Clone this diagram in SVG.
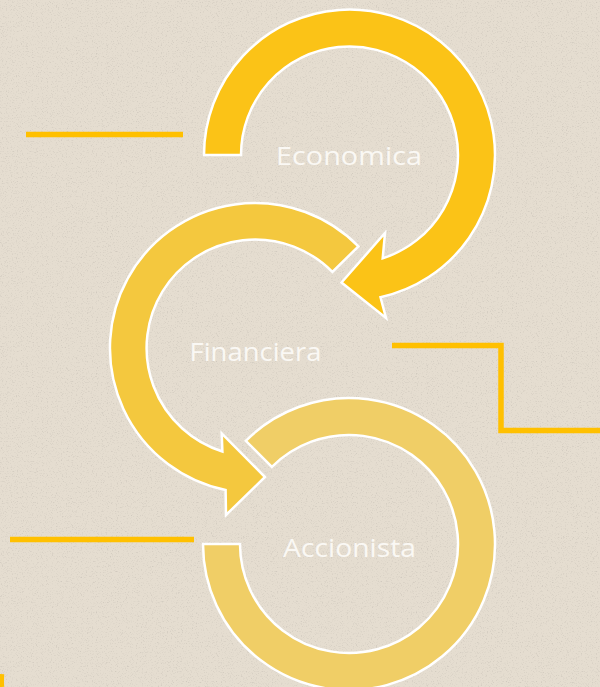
<svg xmlns="http://www.w3.org/2000/svg" width="600" height="687" viewBox="0 0 600 687">
<defs>
<filter id="grain" x="0" y="0" width="100%" height="100%">
<feTurbulence type="fractalNoise" baseFrequency="0.8" numOctaves="2" seed="7" result="n"/>
<feColorMatrix in="n" type="matrix" values="0 0 0 0 0.42  0 0 0 0 0.39  0 0 0 0 0.35  3.2 0 0 0 -1.75"/>
</filter>
<style>
.arrow{stroke:#ffffff;stroke-width:2.5;stroke-linejoin:miter}
.a1{fill:#FBC317}
.a2{fill:#F4C83E}
.a3{fill:#F0CE66}
.lbl{font-family:"Open Sans","Liberation Sans",sans-serif;font-weight:400;font-size:25px;fill:#FAF8F4;text-anchor:middle}
.line{fill:none;stroke:#FFC000;stroke-width:5.5}
</style>
</defs>
<rect width="600" height="687" fill="#E5DDD0"/>
<rect width="600" height="687" fill="#000" filter="url(#grain)" opacity="0.35"/>
<g id="connectors">
<line class="line" x1="26" y1="134.5" x2="183" y2="134.5"/>
<polyline class="line" points="392,345.5 501,345.5 501,430.5 600,430.5"/>
<line class="line" x1="10" y1="539.5" x2="194" y2="539.5"/>
<path class="line" d="M1.5 674 Q1 681 1.5 687" stroke-width="3"/>
</g>
<g id="node-economica">
<path class="arrow a1" d="M 204 155 A 145.5 145.5 0 1 1 380.5 297.2 L 386 318 L 341.5 282.5 L 385 233 L 382.7 258.3 A 108.5 108.5 0 1 0 241 155 Z"/>
<text class="lbl" x="349" y="165" textLength="146" lengthAdjust="spacingAndGlyphs">Economica</text>
</g>
<g id="node-financiera">
<path class="arrow a2" d="M 358.4 246.4 A 145 145 0 1 0 225.6 490 L 226 515 L 265 477 L 221.7 433.3 L 222.4 451.5 A 108.5 108.5 0 1 1 332.4 271.9 Z"/>
<text class="lbl" x="255.5" y="361" textLength="132" lengthAdjust="spacingAndGlyphs">Financiera</text>
</g>
<g id="node-accionista">
<path class="arrow a3" d="M 203 544 A 146 146 0 1 0 245.8 440.8 L 271.9 466.9 A 109 109 0 1 1 240 544 Z"/>
<text class="lbl" x="349.5" y="556.5" textLength="133" lengthAdjust="spacingAndGlyphs">Accionista</text>
</g>
</svg>
